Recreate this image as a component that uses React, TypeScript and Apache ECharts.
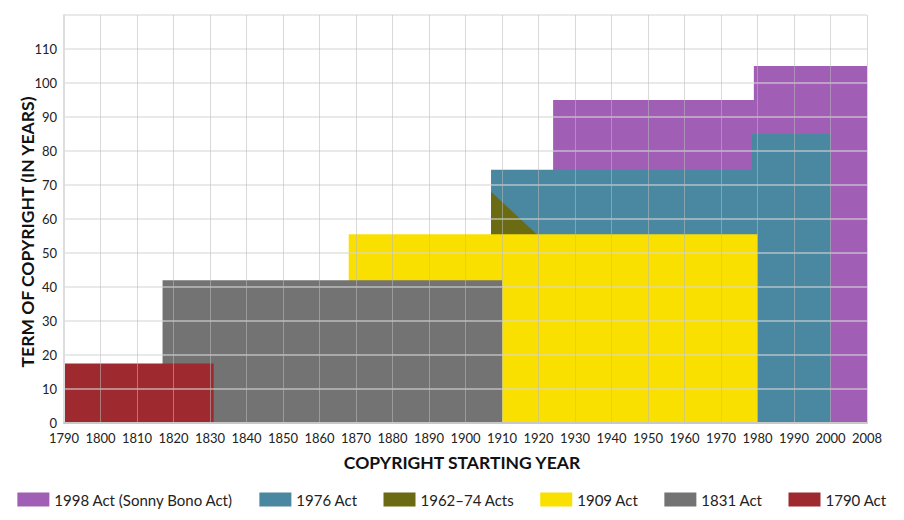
import React, { useEffect, useRef } from "react";
import * as echarts from "echarts";

const seriesNames = [
  "1998 Act (Sonny Bono Act)",
  "1976 Act",
  "1962–74 Acts",
  "1909 Act",
  "1831 Act",
  "1790 Act",
];
const seriesColors = ["#A05FB5", "#4A87A0", "#6A6B13", "#F9E000", "#737373", "#9E2A30"];

// [start year, term] step points for each act
const act1998 = [[1924, 95], [1979, 95], [1979, 105], [2010, 105]];
const act1976 = [[1907, 74.5], [1978.5, 74.5], [1978.5, 85], [2000, 85]];
const acts1962 = [[1907, 68], [1919.5, 55.5]];
const act1909 = [[1868, 55.5], [1980, 55.5]];
const act1831 = [[1817, 42], [1910, 42]];
const act1790 = [[1790, 17.5], [1831, 17.5]];
const seriesData = [act1998, act1976, acts1962, act1909, act1831, act1790];

const xMin = 1790;
const xMax = 2010;
const xLastLabel = "2008";
const yMax = 120;

export default function App() {
  const ref = useRef<HTMLDivElement>(null);
  useEffect(() => {
    if (!ref.current) return;
    const chart = echarts.init(ref.current, undefined, { renderer: "svg" });
    const font = "Lato";
    chart.setOption({
      animation: false,
      backgroundColor: "#ffffff",
      textStyle: { fontFamily: font },
      grid: { left: 64, right: 37, top: 15, bottom: 97 },
      xAxis: {
        type: "value",
        min: xMin,
        max: xMax,
        interval: 10,
        z: 10,
        axisLine: { show: true, lineStyle: { color: "#c8c8c8", width: 2 } },
        axisTick: { show: false },
        axisLabel: {
          color: "#222",
          fontSize: 13,
          margin: 8,
          fontFamily: font,
          formatter: (v: number) => (v === xMax ? xLastLabel : String(v)),
        },
        splitLine: { show: true, lineStyle: { color: "rgba(185,185,185,0.55)", width: 1 } },
      },
      yAxis: {
        type: "value",
        min: 0,
        max: yMax,
        interval: 10,
        z: 10,
        axisLine: { show: true, lineStyle: { color: "#dddddd", width: 2 } },
        axisTick: { show: false },
        axisLabel: {
          color: "#222",
          fontSize: 13,
          margin: 7,
          fontFamily: font,
          formatter: (v: number) => (v === yMax ? "" : String(v)),
        },
        splitLine: { show: true, lineStyle: { color: "rgba(215,215,215,0.55)", width: 2 } },
      },
      legend: {
        top: 487,
        left: "center",
        itemWidth: 32,
        itemHeight: 14,
        itemGap: 26,
        icon: "rect",
        textStyle: { color: "#222", fontSize: 15, fontFamily: font },
        data: seriesNames,
      },
      series: seriesNames.map((name, i) => ({
        name,
        type: "line",
        data: seriesData[i],
        showSymbol: false,
        symbol: "none",
        lineStyle: { width: 0, color: seriesColors[i] },
        itemStyle: { color: seriesColors[i] },
        areaStyle: { color: seriesColors[i], opacity: 1 },
        emphasis: { disabled: true },
        silent: true,
      })),
      graphic: [
        {
          type: "text",
          x: 462,
          y: 462,
          style: {
            text: "COPYRIGHT STARTING YEAR",
            fontFamily: font,
            fontWeight: "bold",
            fontSize: 17.5,
            fill: "#111",
            align: "center",
            verticalAlign: "middle",
          },
        },
        {
          type: "text",
          x: 27,
          y: 232,
          rotation: Math.PI / 2,
          style: {
            text: "TERM OF COPYRIGHT (IN YEARS)",
            fontFamily: font,
            fontWeight: "bold",
            fontSize: 17.5,
            fill: "#111",
            align: "center",
            verticalAlign: "middle",
          },
        },
      ],
    });
    return () => chart.dispose();
  }, []);
  return (
    <div
      ref={ref}
      style={{ position: "fixed", left: 0, top: 0, width: 904, height: 520 }}
    />
  );
}
